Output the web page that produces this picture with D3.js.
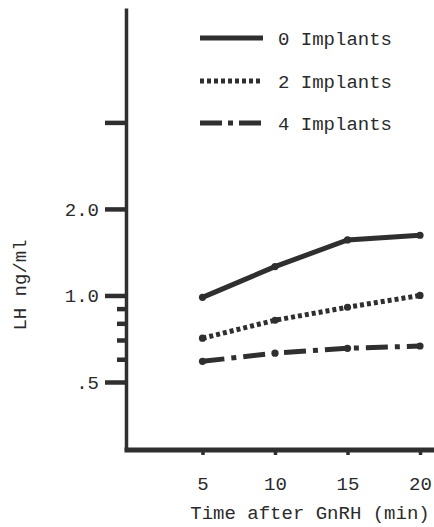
<!DOCTYPE html>
<html>
<head>
<meta charset="utf-8">
<script src="https://cdn.jsdelivr.net/npm/d3@7"></script>
<style>
    body { margin: 0; background: #fff; }
    svg { display: block; }
    text { font-family: "Liberation Mono", "Courier New", monospace; fill: #2b2b2b; }
</style>
</head>
<body>
<div id="chart"></div>
<script>
// data
const times = [5, 10, 15, 20];
const seriesNames = ["0 Implants", "2 Implants", "4 Implants"];
const implants0 = [0.985, 1.26, 1.56, 1.62];
const implants2 = [0.71, 0.82, 0.91, 1.0];
const implants4 = [0.59, 0.63, 0.655, 0.667];
const yMajorTicks = [0.5, 1, 2, 4];
const yMajorLabels = [".5", "1.0", "2.0", ""];
const yMinorTicks = [0.6, 0.7, 0.8, 0.9];

const width = 434, height = 527;
const ink = "#2f2f2f";
const dashes = [null, "4,3", "22,7,5,7"];

const svg = d3.select("#chart")
    .append("svg")
    .attr("width", width)
    .attr("height", height);

// Scales
const xScale = d3.scaleLinear().domain([0, 20]).range([130, 420]);
const yScale = d3.scaleLog().domain([0.29, 10]).range([450, 8]);

const axisX = 126;

// Y axis, major ticks
const yAxis = d3.axisLeft(yScale)
    .tickValues(yMajorTicks)
    .tickFormat((d, i) => yMajorLabels[i])
    .tickSize(21)
    .tickSizeOuter(0)
    .tickPadding(6);

const yG = svg.append("g")
    .attr("transform", `translate(${axisX},0)`)
    .call(yAxis);
yG.select(".domain").attr("stroke", ink).attr("stroke-width", 3.5);
yG.selectAll(".tick line").attr("stroke", ink).attr("stroke-width", 4.5);
yG.selectAll(".tick text")
    .style("font-size", "19px")
    .attr("fill", ink);

// minor ticks between .5 and 1.0
const yMinor = d3.axisLeft(yScale)
    .tickValues(yMinorTicks)
    .tickFormat("")
    .tickSize(9)
    .tickSizeOuter(0);
const yMinorG = svg.append("g")
    .attr("transform", `translate(${axisX},0)`)
    .call(yMinor);
yMinorG.select(".domain").remove();
yMinorG.selectAll(".tick line").attr("stroke", ink).attr("stroke-width", 4.5);

// X axis
const xAxis = d3.axisBottom(xScale)
    .tickValues(times)
    .tickSize(5)
    .tickSizeOuter(0)
    .tickPadding(22);
const xG = svg.append("g")
    .attr("transform", `translate(0,${yScale.range()[0]})`)
    .call(xAxis);
xG.select(".domain").remove();
xG.selectAll(".tick line").attr("stroke", ink).attr("stroke-width", 3.5);
xG.selectAll(".tick text").style("font-size", "19px").attr("fill", ink);

svg.append("line")
    .attr("x1", axisX - 1.5)
    .attr("x2", width)
    .attr("y1", yScale.range()[0])
    .attr("y2", yScale.range()[0])
    .attr("stroke", ink)
    .attr("stroke-width", 5);

// axis titles
svg.append("text")
    .attr("x", 310)
    .attr("y", 519)
    .attr("text-anchor", "middle")
    .style("font-size", "19px")
    .text("Time after GnRH (min)");

svg.append("text")
    .attr("transform", "translate(26,285) rotate(-90)")
    .attr("text-anchor", "middle")
    .style("font-size", "19px")
    .text("LH ng/ml");

// Lines
const series = [implants0, implants2, implants4].map((vals, i) => ({
    name: seriesNames[i],
    dash: dashes[i],
    values: times.map((t, j) => ({ t: t, v: vals[j] }))
}));

const line = d3.line()
    .x(d => xScale(d.t))
    .y(d => yScale(d.v));

svg.selectAll(".line")
    .data(series)
    .enter()
    .append("path")
    .attr("class", "line")
    .attr("d", d => line(d.values))
    .attr("fill", "none")
    .attr("stroke", ink)
    .attr("stroke-width", d => d.dash === "4,3" ? 5 : 5)
    .attr("stroke-dasharray", d => d.dash);

// point markers
svg.selectAll(".pts")
    .data(series)
    .enter()
    .append("g")
    .selectAll("circle")
    .data(d => d.values)
    .enter()
    .append("circle")
    .attr("cx", d => xScale(d.t))
    .attr("cy", d => yScale(d.v))
    .attr("r", 3.6)
    .attr("fill", ink);

// Legend
const legendY = [38, 81, 123];
const legend = svg.selectAll(".legend")
    .data(series)
    .enter()
    .append("g")
    .attr("class", "legend")
    .attr("transform", (d, i) => `translate(200,${legendY[i]})`);

legend.append("line")
    .attr("x1", 0)
    .attr("x2", 63)
    .attr("stroke", ink)
    .attr("stroke-width", 5)
    .attr("stroke-dasharray", d => d.dash === "4,3" ? "4,3" : (d.dash ? "22,6,5,6" : null));

legend.append("text")
    .attr("x", 78)
    .attr("dy", "0.35em")
    .style("font-size", "19px")
    .text(d => d.name);
</script>
</body>
</html>
